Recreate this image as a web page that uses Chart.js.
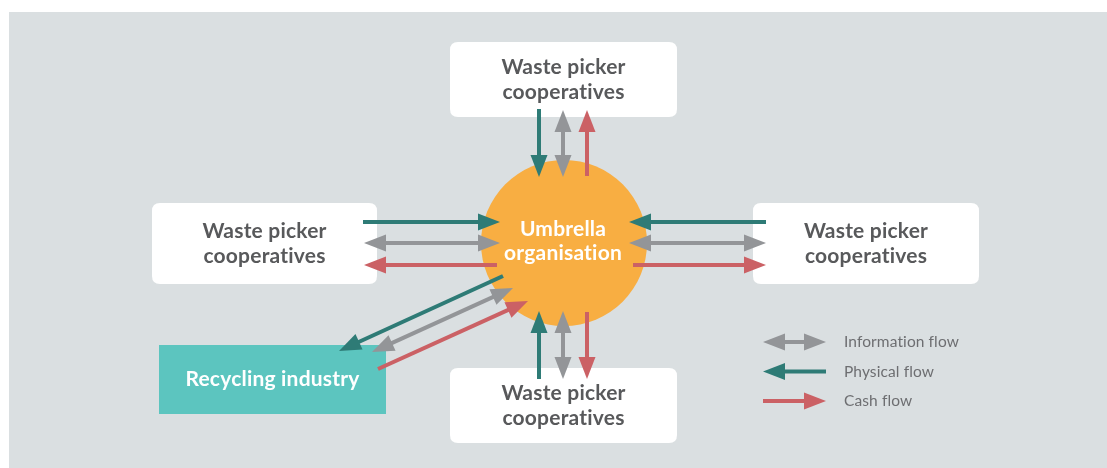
<!DOCTYPE html>
<html>
<head>
<meta charset="utf-8">
<script src="https://cdn.jsdelivr.net/npm/chart.js@4"></script>
<style>
  html, body { margin: 0; padding: 0; background: #ffffff; }
  #wrap { width: 1107px; height: 468px; }
</style>
</head>
<body>
<div id="wrap"><canvas id="diagramma"></canvas></div>
<script>
// Nodi del diagramma (coordinate nello spazio del disegno 1107 x 468)
var nodeLabels = [
  ['Waste picker', 'cooperatives'],
  ['Waste picker', 'cooperatives'],
  ['Waste picker', 'cooperatives'],
  ['Waste picker', 'cooperatives'],
  ['Recycling industry']
];
var nodeX = [450, 152, 753, 450, 159];
var nodeY = [42, 203, 203, 368, 345];
var nodeW = [227, 225, 226, 227, 227];
var nodeH = [75, 81, 81, 75, 69];

var centerLabel = ['Umbrella', 'organisation'];
var centerPoint = [{ x: 564, y: 243 }];

// Frecce: tipo di flusso, punto di partenza, punto di arrivo (info = doppia punta)
var flowType = ['phys', 'info', 'cash',  'phys', 'info', 'cash',  'phys', 'info', 'cash',  'phys', 'info', 'cash',  'phys', 'info', 'cash'];
var fromX = [539, 563, 587,  363, 364, 497,  766, 629, 633,  539, 563, 587,  503, 513, 378];
var fromY = [109, 110, 176,  222, 243, 265,  222, 243, 265,  379, 379, 312,  276, 288, 369];
var toX   = [539, 563, 587,  500, 500, 364,  629, 766, 766,  539, 563, 587,  339, 372, 528];
var toY   = [177, 177, 110,  222, 243, 265,  222, 243, 265,  311, 311, 379,  351, 352, 301];

// Legenda
var legendLabels = ['Information flow', 'Physical flow', 'Cash flow'];
var legendTypes = ['info', 'phys', 'cash'];

var colori = { phys: '#2e7b76', info: '#939598', cash: '#cb6165' };

var canvas = document.getElementById('diagramma').getContext('2d');

function disegnaFreccia(ctx, x1, y1, x2, y2, colore, doppia) {
  var dx = x2 - x1, dy = y2 - y1;
  var len = Math.sqrt(dx * dx + dy * dy);
  var ux = dx / len, uy = dy / len;
  var headL = 22, headW = 8.5;
  var sx = doppia ? x1 + ux * (headL - 4) : x1;
  var sy = doppia ? y1 + uy * (headL - 4) : y1;
  ctx.strokeStyle = colore;
  ctx.lineWidth = 4;
  ctx.lineCap = 'butt';
  ctx.beginPath();
  ctx.moveTo(sx, sy);
  ctx.lineTo(x2 - ux * (headL - 4), y2 - uy * (headL - 4));
  ctx.stroke();
  ctx.fillStyle = colore;
  punta(ctx, x2, y2, ux, uy, headL, headW);
  if (doppia) punta(ctx, x1, y1, -ux, -uy, headL, headW);
}

function punta(ctx, x, y, ux, uy, l, w) {
  ctx.beginPath();
  ctx.moveTo(x, y);
  ctx.lineTo(x - ux * l - uy * w, y - uy * l + ux * w);
  ctx.lineTo(x - ux * l + uy * w, y - uy * l - ux * w);
  ctx.closePath();
  ctx.fill();
}

function rettArrotondato(ctx, x, y, w, h, r) {
  ctx.beginPath();
  ctx.moveTo(x + r, y);
  ctx.lineTo(x + w - r, y);
  ctx.quadraticCurveTo(x + w, y, x + w, y + r);
  ctx.lineTo(x + w, y + h - r);
  ctx.quadraticCurveTo(x + w, y + h, x + w - r, y + h);
  ctx.lineTo(x + r, y + h);
  ctx.quadraticCurveTo(x, y + h, x, y + h - r);
  ctx.lineTo(x, y + r);
  ctx.quadraticCurveTo(x, y, x + r, y);
  ctx.closePath();
}

var pluginDiagramma = {
  id: 'diagramma',
  beforeDatasetsDraw: function (chart) {
    var ctx = chart.ctx, sx = chart.scales.x, sy = chart.scales.y;
    ctx.save();
    // pannello grigio
    ctx.fillStyle = '#dadfe1';
    ctx.fillRect(sx.getPixelForValue(9), sy.getPixelForValue(12), sx.getPixelForValue(1107) - sx.getPixelForValue(9), sy.getPixelForValue(468) - sy.getPixelForValue(12));
    // riquadri
    for (var i = 0; i < nodeLabels.length; i++) {
      var x = sx.getPixelForValue(nodeX[i]), y = sy.getPixelForValue(nodeY[i]);
      var w = sx.getPixelForValue(nodeX[i] + nodeW[i]) - x;
      var h = sy.getPixelForValue(nodeY[i] + nodeH[i]) - y;
      var industria = nodeLabels[i].length === 1;
      ctx.fillStyle = industria ? '#5cc5bf' : '#ffffff';
      rettArrotondato(ctx, x, y, w, h, industria ? 0 : 8);
      ctx.fill();
    }
    ctx.restore();
  },
  afterDatasetsDraw: function (chart) {
    var ctx = chart.ctx, sx = chart.scales.x, sy = chart.scales.y;
    ctx.save();
    // frecce
    for (var i = 0; i < flowType.length; i++) {
      disegnaFreccia(ctx, sx.getPixelForValue(fromX[i]), sy.getPixelForValue(fromY[i]),
        sx.getPixelForValue(toX[i]), sy.getPixelForValue(toY[i]), colori[flowType[i]], flowType[i] === 'info');
    }
    // testi dei riquadri
    ctx.textAlign = 'center';
    ctx.textBaseline = 'middle';
    ctx.font = 'bold 21px Lato';
    ctx.letterSpacing = '0.2px';
    for (var j = 0; j < nodeLabels.length; j++) {
      var cx = sx.getPixelForValue(nodeX[j] + nodeW[j] / 2);
      var cy = sy.getPixelForValue(nodeY[j] + nodeH[j] / 2);
      var righe = nodeLabels[j];
      ctx.fillStyle = righe.length === 1 ? '#ffffff' : '#58595b';
      for (var k = 0; k < righe.length; k++) {
        ctx.fillText(righe[k], cx, cy + (k - (righe.length - 1) / 2) * 25);
      }
    }
    // testo centrale
    ctx.fillStyle = '#ffffff';
    var ccx = sx.getPixelForValue(centerPoint[0].x - 1), ccy = sy.getPixelForValue(centerPoint[0].y - 2);
    for (var m = 0; m < centerLabel.length; m++) {
      ctx.fillText(centerLabel[m], ccx, ccy + (m - 0.5) * 24);
    }
    // legenda
    ctx.textAlign = 'left';
    ctx.font = '15.5px Lato';
    ctx.letterSpacing = '0.1px';
    for (var n = 0; n < legendLabels.length; n++) {
      var ly = sy.getPixelForValue(342 + n * 29.5);
      var t = legendTypes[n];
      var a = sx.getPixelForValue(763), b = sx.getPixelForValue(826);
      if (t === 'phys') disegnaFreccia(ctx, b, ly, a, ly, colori[t], false);
      else disegnaFreccia(ctx, a, ly, b, ly, colori[t], t === 'info');
      ctx.fillStyle = '#6d6e71';
      ctx.fillText(legendLabels[n], sx.getPixelForValue(844), ly);
    }
    ctx.restore();
  }
};

var grafico = new Chart(canvas, {
  type: 'scatter',
  data: {
    datasets: [{
      label: 'Umbrella organisation',
      data: centerPoint,
      pointRadius: 83,
      pointHoverRadius: 83,
      backgroundColor: '#f8ae42',
      borderWidth: 0,
      clip: false
    }]
  },
  options: {
    responsive: true,
    maintainAspectRatio: false,
    animation: false,
    events: [],
    layout: { padding: 0, autoPadding: false },
    plugins: { legend: { display: false }, tooltip: { enabled: false } },
    scales: {
      x: { type: 'linear', min: 0, max: 1107, display: false },
      y: { type: 'linear', min: 0, max: 468, reverse: true, display: false }
    }
  },
  plugins: [pluginDiagramma]
});
</script>
</body>
</html>
